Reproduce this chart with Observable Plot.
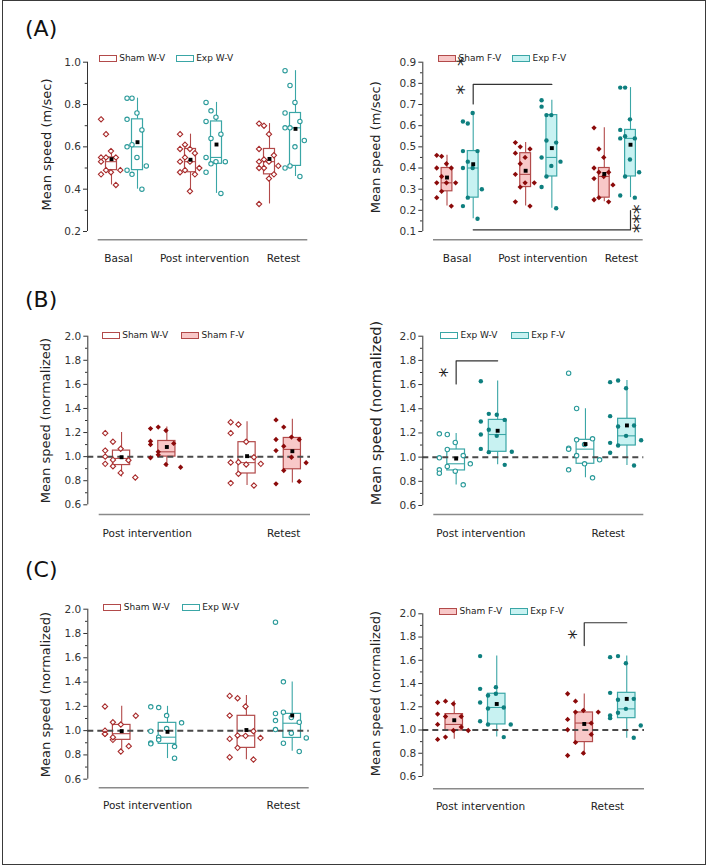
<!DOCTYPE html>
<html>
<head>
<meta charset="utf-8">
<script src="https://cdn.jsdelivr.net/npm/d3@7"></script>
<script src="https://cdn.jsdelivr.net/npm/@observablehq/plot@0.6"></script>
<style>
  body { margin: 0; background: #fff; font-family: "DejaVu Sans", sans-serif; }
  #fig { position: relative; width: 709px; height: 868px; overflow: hidden; }
  .border { position: absolute; left: 2px; top: 0px; width: 702px; height: 863px; border: 1.5px solid #3a3a3a; }
  .panel { position: absolute; }
  .tag { position: absolute; font-size: 22px; line-height: 22px; color: #111; }
  .leg { position: absolute; display: flex; align-items: center; height: 12px; font-size: 9px; color: #222; white-space: nowrap; }
  .leg .sw { width: 18px; height: 7px; box-sizing: border-box; border: 1px solid; margin-right: 2.5px; }
</style>
</head>
<body>
<div id="fig"><div class="border"></div></div>
<script>
// ---------- categories ----------
const periodsA = ["Basal", "Post intervention", "Retest"];
const periodsN = ["Post intervention", "Retest"];

// ---------- (A) mean speed, m/sec : one list per period ----------
const shamWV_A = [
  [0.73, 0.66, 0.58, 0.55, 0.55, 0.55, 0.53, 0.48, 0.49, 0.49, 0.47, 0.42],
  [0.66, 0.61, 0.59, 0.59, 0.57, 0.55, 0.53, 0.53, 0.50, 0.49, 0.48, 0.47, 0.39],
  [0.71, 0.70, 0.66, 0.59, 0.56, 0.54, 0.53, 0.53, 0.51, 0.50, 0.50, 0.47, 0.45, 0.33]
];
const expWV_A = [
  [0.83, 0.83, 0.76, 0.73, 0.68, 0.61, 0.60, 0.55, 0.51, 0.47, 0.49, 0.40],
  [0.81, 0.77, 0.74, 0.72, 0.66, 0.64, 0.55, 0.53, 0.53, 0.52, 0.48, 0.38],
  [0.96, 0.89, 0.81, 0.76, 0.72, 0.69, 0.69, 0.60, 0.63, 0.51, 0.50, 0.46]
];
const shamFV_A = [
  [0.46, 0.455, 0.42, 0.40, 0.40, 0.36, 0.33, 0.33, 0.33, 0.29, 0.26, 0.22],
  [0.52, 0.50, 0.45, 0.47, 0.49, 0.42, 0.37, 0.33, 0.33, 0.31, 0.24, 0.22],
  [0.59, 0.49, 0.45, 0.40, 0.38, 0.38, 0.35, 0.36, 0.32, 0.26, 0.25, 0.24]
];
const expFV_A = [
  [0.62, 0.61, 0.66, 0.48, 0.48, 0.43, 0.40, 0.40, 0.30, 0.26, 0.22, 0.16],
  [0.72, 0.65, 0.65, 0.69, 0.52, 0.53, 0.45, 0.41, 0.43, 0.36, 0.31, 0.21],
  [0.78, 0.78, 0.63, 0.58, 0.54, 0.55, 0.54, 0.44, 0.38, 0.36, 0.27, 0.26]
];

// box summaries per period: [whisker low, Q1, median, Q3, whisker high, mean]
const shamWV_A_box = [[0.42, 0.49, 0.53, 0.55, 0.58, 0.542], [0.39, 0.48, 0.53, 0.59, 0.66, 0.539], [0.33, 0.47, 0.53, 0.59, 0.71, 0.543]];
const expWV_A_box  = [[0.40, 0.49, 0.60, 0.73, 0.83, 0.622], [0.38, 0.52, 0.55, 0.72, 0.81, 0.611], [0.46, 0.51, 0.69, 0.76, 0.96, 0.685]];
const shamFV_A_box = [[0.22, 0.29, 0.33, 0.40, 0.46, 0.355], [0.22, 0.31, 0.37, 0.47, 0.52, 0.387], [0.24, 0.26, 0.36, 0.40, 0.59, 0.372]];
const expFV_A_box  = [[0.16, 0.26, 0.40, 0.48, 0.66, 0.418], [0.21, 0.36, 0.45, 0.65, 0.72, 0.494], [0.26, 0.36, 0.54, 0.58, 0.78, 0.510]];

// ---------- (B) normalized speed ----------
const shamWV_B = [
  [1.195, 1.123, 1.065, 1.05, 0.97, 0.92, 0.94, 0.865, 0.827, 0.973, 1.00],
  [1.286, 1.267, 1.123, 1.195, 0.995, 0.954, 0.951, 0.935, 0.94, 0.857, 0.78, 0.76]
];
const shamFV_B = [
  [1.233, 1.245, 1.217, 1.128, 1.11, 1.04, 0.99, 0.935, 0.912, 1.015, 1.10],
  [1.305, 1.245, 1.162, 1.142, 1.142, 1.087, 1.05, 0.995, 0.949, 0.885, 0.774, 0.794]
];
const expWV_B = [
  [1.193, 1.187, 1.121, 0.994, 1.013, 1.063, 0.895, 0.884, 0.945, 0.923, 0.867, 0.771],
  [1.694, 1.402, 1.104, 1.074, 1.151, 1.143, 1.066, 0.945, 0.978, 1.013, 0.895, 0.829]
];
const expFV_B = [
  [1.628, 1.358, 1.35, 1.295, 1.308, 1.226, 1.187, 1.176, 1.044, 1.041, 1.068, 0.936],
  [1.62, 1.634, 1.57, 1.339, 1.262, 1.253, 1.118, 1.176, 1.14, 1.096, 1.036, 0.931]
];
const shamWV_B_box = [[0.83, 0.93, 0.985, 1.05, 1.20, 0.995], [0.76, 0.86, 0.95, 1.12, 1.29, 1.004]];
const shamFV_B_box = [[0.91, 1.00, 1.04, 1.13, 1.245, 1.08], [0.78, 0.895, 1.06, 1.155, 1.31, 1.045]];
const expWV_B_box  = [[0.77, 0.89, 0.945, 1.063, 1.195, 0.988], [0.83, 0.945, 1.066, 1.143, 1.40, 1.108]];
const expFV_B_box  = [[0.936, 1.044, 1.187, 1.308, 1.63, 1.218], [0.93, 1.096, 1.176, 1.317, 1.634, 1.262]];

// ---------- (C) normalized speed ----------
const shamWV_C = [
  [1.199, 1.069, 1.05, 0.973, 0.872, 0.924, 1.0, 0.828, 1.122, 0.946, 0.973],
  [1.286, 1.267, 1.199, 1.124, 0.995, 0.96, 0.932, 0.957, 0.94, 0.858, 0.781, 0.762]
];
const expWV_C = [
  [1.196, 1.19, 1.124, 0.899, 0.773, 0.946, 0.995, 1.017, 1.064, 0.924, 0.891, 0.869],
  [1.893, 1.402, 1.108, 1.083, 1.069, 1.152, 1.141, 0.979, 0.94, 0.896, 1.009, 0.828]
];
const shamFV_C = [
  [1.237, 1.248, 1.225, 1.137, 1.116, 1.116, 1.048, 0.996, 0.996, 0.939, 0.919, 1.025],
  [1.312, 1.248, 1.168, 1.002, 0.962, 0.893, 0.781, 0.801, 1.154, 1.154, 1.091, 1.059]
];
const expFV_C = [
  [1.636, 1.297, 1.312, 1.237, 1.194, 1.185, 1.354, 1.369, 1.048, 1.048, 1.076, 0.939],
  [1.627, 1.636, 1.575, 1.32, 1.268, 1.26, 1.125, 1.182, 1.039, 1.148, 1.102, 0.933]
];
const shamWV_C_box = [[0.83, 0.924, 0.975, 1.047, 1.20, 0.996], [0.76, 0.858, 0.957, 1.122, 1.29, 1.005]];
const expWV_C_box  = [[0.77, 0.891, 0.946, 1.064, 1.20, 0.99], [0.83, 0.94, 1.061, 1.138, 1.40, 1.125]];
const shamFV_C_box = [[0.92, 0.996, 1.048, 1.137, 1.25, 1.084], [0.78, 0.896, 1.06, 1.151, 1.31, 1.052]];
const expFV_C_box  = [[0.94, 1.048, 1.194, 1.312, 1.636, 1.224], [0.93, 1.102, 1.182, 1.32, 1.636, 1.268]];

// ---------- axis ticks ----------
const ticksRaw = [0.2, 0.4, 0.6, 0.8, 1.0];
const minorRaw = [0.3, 0.5, 0.7, 0.9];
const ticksFV = [0.1, 0.2, 0.3, 0.4, 0.5, 0.6, 0.7, 0.8, 0.9];
const minorFV = [0.15, 0.25, 0.35, 0.45, 0.55, 0.65, 0.75, 0.85];
const ticksNorm = [0.6, 0.8, 1.0, 1.2, 1.4, 1.6, 1.8, 2.0];
const minorNorm = [0.7, 0.9, 1.1, 1.3, 1.5, 1.7, 1.9];

// ---------- styling ----------
const COLORS = {
  sham: { line: "#b24a4a", point: "#8b0a0a", open: "#a82c2c", fill: "#f8c8c8" },
  exp:  { line: "#3aa6a6", point: "#0e7f7f", open: "#2a9a9a", fill: "#c8f2f2" }
};
const LANE_POS = [-0.95, -0.5, -0.05, 0.4, 0.8];          // horizontal jitter lanes, in box widths
const LANE_SEQ = [0, 1, 2, 0, 3, 1, 0, 2, 4, 1, 0, 3, 2, 0];
const STAR_SIZE = 19;

const S = (name, kind, filled, values, box) => ({ name, kind, filled, values, box });

const panels = [
  { left: 0, top: 0, w: 354, h: 290, tag: ["(A)", 25, 18], periods: periodsA,
    pair: [S("Sham W-V", "sham", false, shamWV_A, shamWV_A_box), S("Exp W-V", "exp", false, expWV_A, expWV_A_box)],
    ticks: ticksRaw, minor: minorRaw, ylabel: "Mean speed (m/sec)", ref: false,
    g: { axis: 87, yTop: 61.7, yBot: 231, base: 239.3, g0: 124, gs: 79, off: 13, boxW: 11, baseL: 97.7, baseR: 307.3,
         cat: 258, catShift: [-6, 1, 1], lab: [46, 144], labSize: 13, legend: [98.7, 175.7], legY: 58 } },
  { left: 354, top: 0, w: 355, h: 290, periods: periodsA,
    pair: [S("Sham F-V", "sham", true, shamFV_A, shamFV_A_box), S("Exp F-V", "exp", true, expFV_A, expFV_A_box)],
    ticks: ticksFV, minor: minorFV, ylabel: "Mean speed (m/sec)", ref: false,
    g: { axis: 422.3, yTop: 61.7, yBot: 231, base: 239.3, g0: 459.6, gs: 78.65, off: 13.1, boxW: 10.8, baseL: 433, baseR: 642.7,
         cat: 258, catShift: [-3, 4, 4], lab: [375.7, 146.7], labSize: 13, legend: [438, 512], legY: 58 },
    brackets: [
      { path: [[0, 1, 0.703], [0, 1, 0.795], [1, 1, 0.795]] },
      { path: [[0, 1, 0.108], [2, 1, 0.108], [2, 1, 0.199]] }
    ],
    stars: [[0, 1, 0.77, -10.5, 1], [0, 1, 0.905, -10.5, 1], [2, 1, 0.160, 8, 3]] },
  { left: 0, top: 290, w: 354, h: 290, tag: ["(B)", 25, 289], periods: periodsN,
    pair: [S("Sham W-V", "sham", false, shamWV_B, shamWV_B_box), S("Sham F-V", "sham", true, shamFV_B, shamFV_B_box)],
    ticks: ticksNorm, minor: minorNorm, ylabel: "Mean speed (normalized)", ref: true,
    g: { axis: 87.3, yTop: 335.7, yBot: 504.3, base: 514, g0: 143.7, gs: 125.5, off: 22.65, boxW: 17.2, baseL: 98.7, baseR: 310,
         cat: 532.7, catShift: [3, 14], lab: [45.7, 420], labSize: 13, legend: [101.7, 181], legY: 335 } },
  { left: 354, top: 290, w: 355, h: 290, periods: periodsN,
    pair: [S("Exp W-V", "exp", false, expWV_B, expWV_B_box), S("Exp F-V", "exp", true, expFV_B, expFV_B_box)],
    ticks: ticksNorm, minor: minorNorm, ylabel: "Mean speed (normalized)", ref: true,
    g: { axis: 422.3, yTop: 335.7, yBot: 505, base: 514, g0: 476.4, gs: 129.3, off: 20.75, boxW: 17.7, baseL: 433.3, baseR: 643.3,
         cat: 532.7, catShift: [4, 2], lab: [375.7, 412.5], labSize: 14.5, legend: [440, 510.7], legY: 335 },
    brackets: [{ path: [[0, 0, 1.605], [0, 0, 1.796], [0, 1, 1.796]] }],
    stars: [[0, 0, 1.70, -10.5, 1]] },
  { left: 0, top: 580, w: 354, h: 288, tag: ["(C)", 25, 559], periods: periodsN,
    pair: [S("Sham W-V", "sham", false, shamWV_C, shamWV_C_box), S("Exp W-V", "exp", false, expWV_C, expWV_C_box)],
    ticks: ticksNorm, minor: minorNorm, ylabel: "Mean speed (normalized)", ref: true,
    g: { axis: 87.3, yTop: 608.7, yBot: 778.7, base: 787.3, g0: 144.1, gs: 124.7, off: 22.9, boxW: 17.6, baseL: 98.7, baseR: 308.7,
         cat: 805, catShift: [3, 14], lab: [45.7, 694], labSize: 13, legend: [103.3, 181.7], legY: 607 } },
  { left: 354, top: 580, w: 355, h: 288, periods: periodsN,
    pair: [S("Sham F-V", "sham", true, shamFV_C, shamFV_C_box), S("Exp F-V", "exp", true, expFV_C, expFV_C_box)],
    ticks: ticksNorm, minor: minorNorm, ylabel: "Mean speed (normalized)", ref: true,
    g: { axis: 422.3, yTop: 613.3, yBot: 776, base: 788.3, g0: 475, gs: 130, off: 21.25, boxW: 17.5, baseL: 433, baseR: 644,
         cat: 805.7, catShift: [5, 2], lab: [375.7, 693], labSize: 13, legend: [439, 509.7], legY: 611.3 },
    brackets: [{ path: [[1, 0, 1.727], [1, 0, 1.923], [1, 1, 1.923]] }],
    stars: [[1, 0, 1.822, -10.5, 1]] }
];

const fig = document.getElementById("fig");

function drawPanel(p) {
  const g = p.g;
  const u = px => px / g.gs;                       // pixel distance -> group units on x
  const xDomain = [u(g.axis - g.g0), u(g.baseR - g.g0)];
  const yLo = p.ticks[0], yHi = p.ticks[p.ticks.length - 1];
  const cx = (pi, si) => pi + (si ? 1 : -1) * u(g.off);

  const marks = [];
  const perSeries = p.pair.map((s, si) => {
    const c = COLORS[s.kind];
    const boxes = p.periods.map((per, pi) => {
      const [lo, q1, med, q3, hi, mean] = s.box[pi];
      const x = cx(pi, si);
      return { x, x1: x - u(g.boxW / 2), x2: x + u(g.boxW / 2), lo, q1, med, q3, hi, mean };
    });
    const pts = [];
    p.periods.forEach((per, pi) => {
      const x = cx(pi, si);
      s.values[pi].forEach((v, k) => {
        pts.push({ x: x + u(LANE_POS[LANE_SEQ[k % LANE_SEQ.length]] * g.boxW), y: v });
      });
    });
    return { s, c, boxes, pts };
  });

  // boxes and whiskers
  for (const { s, c, boxes } of perSeries) {
    marks.push(
      Plot.ruleX(boxes, { x: "x", y1: "lo", y2: "q1", stroke: c.line, strokeWidth: 1.1 }),
      Plot.ruleX(boxes, { x: "x", y1: "q3", y2: "hi", stroke: c.line, strokeWidth: 1.1 }),
      Plot.rect(boxes, { x1: "x1", x2: "x2", y1: "q1", y2: "q3", fill: s.filled ? c.fill : "white", stroke: c.line, strokeWidth: 1.2 }),
      Plot.ruleY(boxes, { y: "med", x1: "x1", x2: "x2", stroke: c.line, strokeWidth: 1.1 })
    );
  }

  // reference level of the normalized speed
  if (p.ref) marks.push(Plot.ruleY([1], { stroke: "#4a4a4a", strokeWidth: 2, strokeDasharray: "6,4" }));

  // individual animals and group means
  for (const { s, c, pts } of perSeries) {
    const isSham = s.kind === "sham";
    marks.push(Plot.dot(pts, {
      x: "x", y: "y",
      symbol: isSham ? "diamond2" : "circle",
      r: isSham ? 2.4 : 2.2,
      fill: s.filled ? c.point : "white",
      stroke: s.filled ? "none" : c.open,
      strokeWidth: 1.1
    }));
  }
  for (const { boxes } of perSeries) {
    marks.push(Plot.dot(boxes, { x: "x", y: "mean", symbol: "square", r: 2.2, fill: "black", stroke: "none" }));
  }

  // significance brackets and stars
  for (const b of (p.brackets || [])) {
    marks.push(Plot.line(b.path.map(([pi, si, v]) => ({ x: cx(pi, si), y: v })),
      { x: "x", y: "y", stroke: "#333", strokeWidth: 1.2 }));
  }
  if (p.stars) {
    const starRows = p.stars.map(([pi, si, v, dx, n]) => ({ x: cx(pi, si) + u(dx), y: v, n }));
    const glyphLift = 0.27 * STAR_SIZE;             // "*" sits above the text's middle line
    // stars drawn turned a quarter so their bar lies flat; a stack is one rotated run
    marks.push(Plot.text(starRows,
      { x: "x", y: "y", text: d => "*".repeat(d.n), rotate: 90, dx: -glyphLift, fontSize: STAR_SIZE, fill: "#222" }));
  }

  // axes
  marks.push(
    Plot.ruleX([xDomain[0]], { y1: yLo, y2: yHi, stroke: "#333", strokeWidth: 1 }),
    Plot.axisY(p.ticks, { tickSize: 4, tickPadding: 2.5, tickFormat: d3.format(".1f"), label: null, fontSize: 10.5 }),
    Plot.axisY(p.minor, { tickSize: 2.3, tickFormat: () => "", label: null }),
    Plot.ruleY([yLo], { x1: u(g.baseL - g.g0), x2: xDomain[1], dy: g.base - g.yBot, stroke: "#8a8a8a", strokeWidth: 1.6 }),
    Plot.text(p.periods, { x: (d, i) => i + u(g.catShift[i]), y: yLo, dy: g.cat - g.yBot, text: d => d, fontSize: 10.5, fill: "#222" }),
    Plot.text([p.ylabel], { frameAnchor: "left", textAnchor: "middle", rotate: -90,
      dx: g.lab[0] - g.axis, dy: g.lab[1] - (g.yTop + g.yBot) / 2,
      text: d => d, fontSize: g.labSize, fill: "#222" })
  );

  const svg = Plot.plot({
    width: p.w, height: p.h,
    marginLeft: g.axis - p.left, marginRight: p.left + p.w - g.baseR,
    marginTop: g.yTop - p.top, marginBottom: p.top + p.h - g.yBot,
    x: { domain: xDomain, axis: null },
    y: { domain: [yLo, yHi], axis: null, label: null },
    style: { fontFamily: "'DejaVu Sans', sans-serif", fontSize: "10.5px", color: "#333", background: "transparent", overflow: "visible" },
    marks
  });
  const wrap = document.createElement("div");
  wrap.className = "panel";
  wrap.style.left = p.left + "px";
  wrap.style.top = p.top + "px";
  wrap.appendChild(svg);
  fig.appendChild(wrap);

  // legend
  p.pair.forEach((s, si) => {
    const c = COLORS[s.kind];
    const item = document.createElement("div");
    item.className = "leg";
    item.style.left = g.legend[si] + "px";
    item.style.top = (g.legY - 6) + "px";
    const sw = document.createElement("div");
    sw.className = "sw";
    sw.style.borderColor = c.line;
    sw.style.background = s.filled ? c.fill : "white";
    item.appendChild(sw);
    item.appendChild(document.createTextNode(s.name));
    fig.appendChild(item);
  });

  if (p.tag) {
    const t = document.createElement("div");
    t.className = "tag";
    t.textContent = p.tag[0];
    t.style.left = p.tag[1] + "px";
    t.style.top = p.tag[2] + "px";
    fig.appendChild(t);
  }
}

panels.forEach(drawPanel);
</script>
</body>
</html>
